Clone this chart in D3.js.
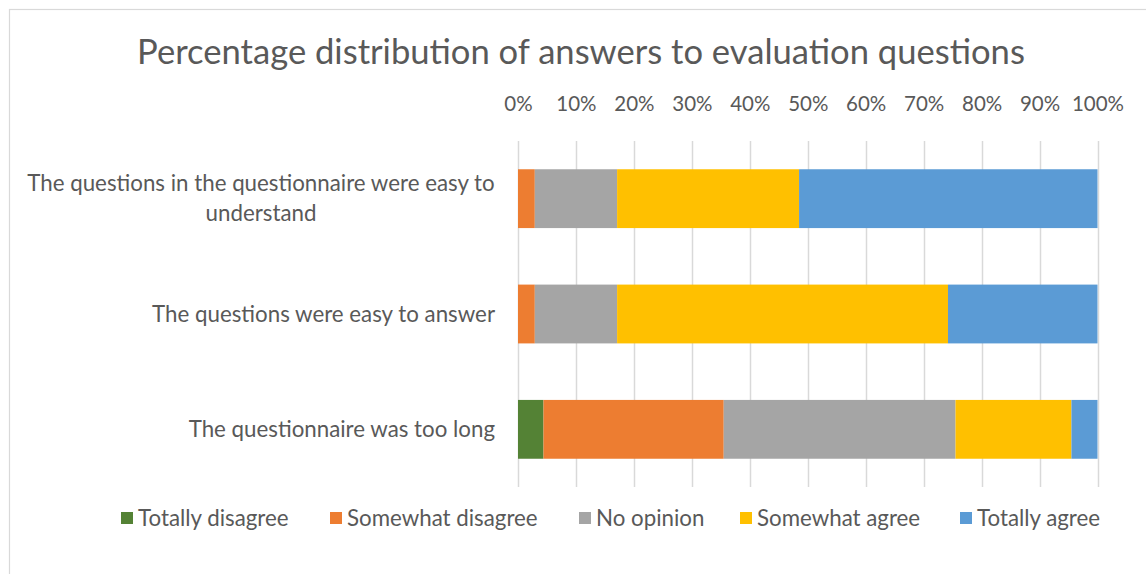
<!DOCTYPE html>
<html>
<head>
<meta charset="utf-8">
<script src="https://cdn.jsdelivr.net/npm/d3@7"></script>
<style>
  html, body { margin: 0; padding: 0; background: #fff; }
  svg { display: block; }
  text { font-family: Lato, "Open Sans", "Liberation Sans", sans-serif; fill: #595959; }
</style>
</head>
<body>
<svg id="chart" width="1146" height="574"></svg>
<script>
// Survey answers, percentage of respondents per statement
const questions = [
  "The questions in the questionnaire were easy to understand",
  "The questions were easy to answer",
  "The questionnaire was too long"
];
const seriesNames = ["Totally disagree", "Somewhat disagree", "No opinion", "Somewhat agree", "Totally agree"];
const totallyDisagree  = [0.0, 0.0, 4.4];
const somewhatDisagree = [2.9, 2.9, 31.1];
const noOpinion        = [14.2, 14.2, 40.0];
const somewhatAgree    = [31.4, 57.1, 20.0];
const totallyAgree     = [51.5, 25.8, 4.5];
const tickValues = [0, 10, 20, 30, 40, 50, 60, 70, 80, 90, 100];
const seriesColors = ["#548235", "#ED7D31", "#A5A5A5", "#FFC000", "#5B9BD5"];

const seriesValues = [totallyDisagree, somewhatDisagree, noOpinion, somewhatAgree, totallyAgree];
const rows = questions.map((q, i) => {
  const r = { question: q };
  seriesNames.forEach((s, k) => { r[s] = seriesValues[k][i]; });
  return r;
});
const stacked = d3.stack().keys(seriesNames)(rows);

const svg = d3.select("#chart");
const labelSize = 22.3;

// chart frame
svg.append("rect")
  .attr("x", 9.5).attr("y", 9.5)
  .attr("width", 1160).attr("height", 580)
  .attr("fill", "#fff").attr("stroke", "#d9d9d9").attr("stroke-width", 1.2);

const x = d3.scaleLinear().domain([0, 100]).range([518, 1097.5]);
const y = d3.scaleBand().domain(questions).range([141, 487]).paddingInner(0.49).paddingOuter(0.245);

// shrink/grow a text node's font size so it spans a given width
function fitWidth(sel, width) {
  sel.each(function () {
    const fs = parseFloat(this.getAttribute("font-size"));
    const w = this.getComputedTextLength();
    if (w > 0) this.setAttribute("font-size", (fs * width / w).toFixed(2));
  });
}

// title
svg.append("text")
  .attr("x", 581).attr("y", 64)
  .attr("text-anchor", "middle")
  .attr("font-size", 30)
  .text("Percentage distribution of answers to evaluation questions")
  .call(fitWidth, 888);

// gridlines
svg.append("g")
  .selectAll("line")
  .data(tickValues)
  .join("line")
  .attr("x1", d => Math.round(x(d)) + 0.5).attr("x2", d => Math.round(x(d)) + 0.5)
  .attr("y1", 141).attr("y2", 487)
  .attr("stroke", "#d9d9d9").attr("stroke-width", 1.5);

// top percentage axis
const axis = d3.axisTop(x).tickValues(tickValues).tickFormat(d => d + "%").tickSize(0).tickPadding(0);
const axG = svg.append("g").attr("transform", "translate(0,111)").call(axis);
axG.select(".domain").remove();
axG.selectAll("text")
  .attr("font-size", 20.5)
  .attr("fill", "#595959")
  .style("font-family", "Lato, 'Open Sans', sans-serif");

// stacked bars
svg.append("g")
  .selectAll("g")
  .data(stacked)
  .join("g")
  .attr("fill", (d, i) => seriesColors[i])
  .selectAll("rect")
  .data(d => d.map(v => Object.assign(v, { q: v.data.question })))
  .join("rect")
  .attr("x", d => x(d[0]))
  .attr("width", d => Math.max(0, x(d[1]) - x(d[0])))
  .attr("y", d => y(d.q))
  .attr("height", y.bandwidth());

// category labels, right aligned and wrapped
const labelLines = {
  [questions[0]]: ["The questions in the questionnaire were easy to", "understand"],
  [questions[1]]: [questions[1]],
  [questions[2]]: [questions[2]]
};
const catG = svg.append("g");
questions.forEach(q => {
  const lines = labelLines[q];
  const cy = y(q) + y.bandwidth() / 2;
  const lh = 30;
  const t = catG.append("text")
    .attr("font-size", labelSize)
    .attr("text-anchor", lines.length > 1 ? "middle" : "end");
  lines.forEach((ln, i) => {
    t.append("tspan")
      .attr("x", lines.length > 1 ? 261 : 495)
      .attr("y", cy + (i - (lines.length - 1) / 2) * lh)
      .attr("dy", "0.35em")
      .text(ln);
  });
});

// legend
const legendX = [121, 330, 579, 740, 960];
const leg = svg.append("g")
  .selectAll("g")
  .data(seriesNames)
  .join("g")
  .attr("transform", (d, i) => `translate(${legendX[i]},512)`);
leg.append("rect").attr("width", 12).attr("height", 12).attr("fill", (d, i) => seriesColors[i]);
leg.append("text")
  .attr("x", 17).attr("y", 6).attr("dy", "0.35em")
  .attr("font-size", labelSize)
  .text(d => d);
</script>
</body>
</html>
